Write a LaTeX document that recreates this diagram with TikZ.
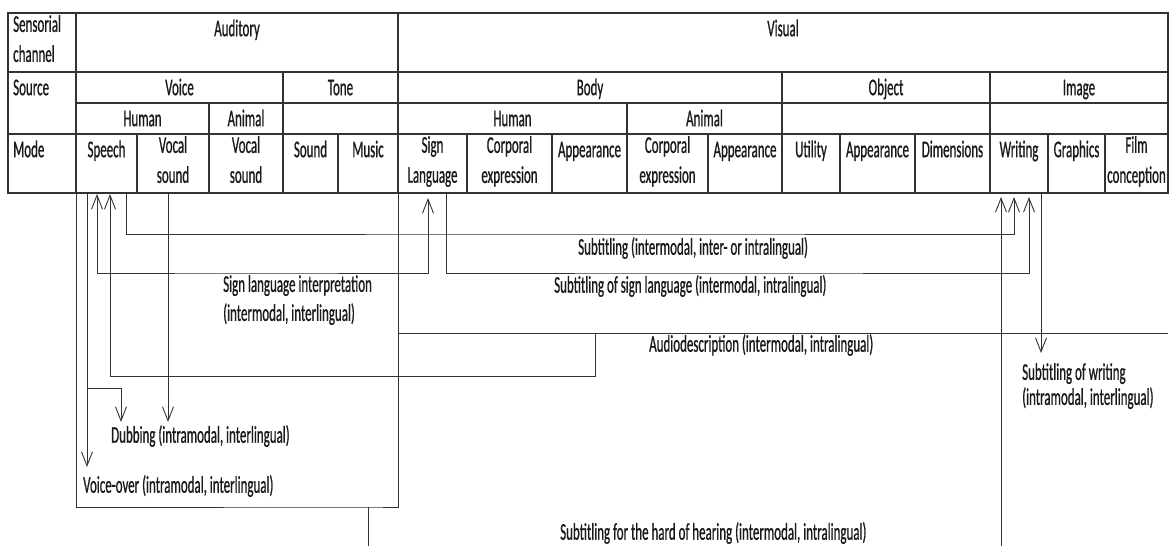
\documentclass[tikz,border=0pt]{standalone}
\usepackage{fontspec}
\setmainfont{Carlito}[FakeStretch=0.54,FakeBold=0.7]
\usetikzlibrary{arrows.meta,calc}
\definecolor{linec}{HTML}{333333}
\definecolor{textc}{HTML}{1A1A1A}
\tikzset{
  cellbox/.style={draw=linec, line width=1.2pt, inner sep=0pt, outer sep=0pt, rectangle},
  celltext/.style={font=\fontsize{24}{30}\selectfont, align=center, inner sep=0pt, text=textc, execute at begin node=\strut},
  lefttext/.style={font=\fontsize{24}{30}\selectfont, align=left, inner sep=0pt, text=textc, execute at begin node=\strut},
  conn/.style={draw=linec, line width=0.9pt},
  lab/.style={font=\fontsize{24}{25}\selectfont, inner sep=0pt, text=textc},
}
% name, x1, y1, x2, y2, text
\newcommand\tcell[6]{%
  \node[cellbox, minimum width={(#4-#2)*1pt}, minimum height={(#5-#3)*1pt}, anchor=north west] (#1) at (#2,#3) {};
  \node[celltext, anchor=north] (#1-t) at ({(#2+#4)/2},{#3+2}) {#6};
}
\newcommand\bcell[5]{%
  \node[cellbox, minimum width={(#4-#2)*1pt}, minimum height={(#5-#3)*1pt}, anchor=north west] (#1) at (#2,#3) {};
}
\newcommand\lcell[6]{%
  \node[cellbox, minimum width={(#4-#2)*1pt}, minimum height={(#5-#3)*1pt}, anchor=north west] (#1) at (#2,#3) {};
  \node[lefttext, anchor=north west] (#1-t) at ({#2+5},{#3+2}) {#6};
}
\begin{document}
\begin{tikzpicture}[x=1pt,y=-1pt, >={Straight Barb[length=14pt,width=11pt]}]
\fill[white] (0,0) rectangle (1169,546);
\useasboundingbox (0,0) rectangle (1169,546);
% left column
\lcell{chan}{8}{13}{76}{72}{Sensorial\\channel}
\lcell{src}{8}{72}{76}{134}{Source}
\lcell{mode}{8}{134}{76}{193}{Mode}
% row 1
\tcell{aud}{76}{13}{398}{72}{Auditory}
\tcell{vis}{398}{13}{1168}{72}{Visual}
% row 2
\tcell{voice}{76}{72}{283}{103}{Voice}
\tcell{tone}{283}{72}{398}{103}{Tone}
\tcell{body}{398}{72}{782}{103}{Body}
\tcell{object}{782}{72}{990}{103}{Object}
\tcell{image}{990}{72}{1168}{103}{Image}
% row 3
\tcell{vhuman}{76}{103}{209}{134}{Human}
\tcell{vanimal}{209}{103}{283}{134}{Animal}
\bcell{tblank}{283}{103}{398}{134}
\tcell{bhuman}{398}{103}{627}{134}{Human}
\tcell{banimal}{627}{103}{782}{134}{Animal}
\bcell{oblank}{782}{103}{990}{134}
\bcell{iblank}{990}{103}{1168}{134}
% row 4
\tcell{speech}{76}{134}{137}{193}{Speech}
\tcell{vsound}{137}{134}{209}{193}{Vocal\\sound}
\tcell{avsound}{209}{134}{283}{193}{Vocal\\sound}
\tcell{sound}{283}{134}{338}{193}{Sound}
\tcell{music}{338}{134}{398}{193}{Music}
\tcell{sign}{398}{134}{467}{193}{Sign\\Language}
\tcell{hcorp}{467}{134}{552}{193}{Corporal\\expression}
\tcell{happ}{552}{134}{627}{193}{Appearance}
\tcell{acorp}{627}{134}{708}{193}{Corporal\\expression}
\tcell{aapp}{708}{134}{782}{193}{Appearance}
\tcell{util}{782}{134}{840}{193}{Utility}
\tcell{oapp}{840}{134}{915}{193}{Appearance}
\tcell{dim}{915}{134}{990}{193}{Dimensions}
\tcell{writing}{990}{134}{1048}{193}{Writing}
\tcell{graphics}{1048}{134}{1105}{193}{Graphics}
\tcell{film}{1105}{134}{1168}{193}{Film\\conception}

% coordinates for free ends / corners
\coordinate (vo-tip) at (87,467);
\coordinate (db-j) at (87,388);
\coordinate (db-tip1) at (121,422);
\coordinate (db-tip2) at (168,422);
\coordinate (sli-mid) at (250,273);
\coordinate (ad-c) at (595,376);
\coordinate (ad-t) at (595,333);
\coordinate (ad-l) at (398,333);
\coordinate (ad-r) at (1168,333);
\coordinate (st-mid) at (600,234);
\coordinate (ss-mid) at (700,273);
\coordinate (hoh-l) at (368,507);
\coordinate (hoh-lb) at (368,546);
\coordinate (hoh-rb) at (1001,546);
\coordinate (sw-tip) at (1041,353);

% auditory frame
\draw[conn] (speech.south west) |- (hoh-l) -| (music.south east);
\draw[conn] (hoh-l) -- (hoh-lb);
% voice-over and dubbing
\draw[conn,->] ($(speech.south west)+(11,0)$) -- (vo-tip);
\draw[conn,->] (db-j) -| (db-tip1);
\draw[conn,->] ($(vsound.south west)+(31,0)$) -- (db-tip2);
% sign language interpretation
\draw[conn,<->] ($(speech.south west)+(21,1)$) |- (sli-mid) -| ($(sign.south west)+(30,5)$);
% audiodescription
\draw[conn,<-] ($(speech.south west)+(34,1)$) |- (ad-c) -- (ad-t);
\draw[conn] (ad-l) -- (ad-r);
% subtitling
\draw[conn,->] ($(speech.south west)+(50,0)$) |- (st-mid) -| ($(writing.south west)+(24,4)$);
% subtitling of sign language
\draw[conn,->] ($(sign.south west)+(48,0)$) |- (ss-mid) -| ($(writing.south west)+(39,4)$);
% subtitling for the hard of hearing
\draw[conn,->] (hoh-rb) -- ($(writing.south west)+(11,4)$);
% subtitling of writing
\draw[conn,->] ($(writing.south west)+(51,0)$) -- (sw-tip);

% labels
\node[lab, anchor=west] (l-st) at (578,248) {Subtitling (intermodal, inter- or intralingual)};
\node[lab, anchor=west] (l-ss) at (554,286) {Subtitling of sign language (intermodal, intralingual)};
\node[lab, anchor=north west, align=left, font=\fontsize{24}{29}\selectfont, execute at begin node=\strut] (l-sli) at (223,275) {Sign language interpretation\\(intermodal, interlingual)};
\node[lab, anchor=west] (l-ad) at (649,345) {Audiodescription (intermodal, intralingual)};
\node[lab, anchor=north west, align=left, execute at begin node=\strut] (l-sw) at (1022,363) {Subtitling of writing\\(intramodal, interlingual)};
\node[lab, anchor=west] (l-db) at (111,436) {Dubbing (intramodal, interlingual)};
\node[lab, anchor=west] (l-vo) at (83,486) {Voice-over (intramodal, interlingual)};
\node[lab, anchor=west] (l-hoh) at (560,533) {Subtitling for the hard of hearing (intermodal, intralingual)};
\end{tikzpicture}
\end{document}
